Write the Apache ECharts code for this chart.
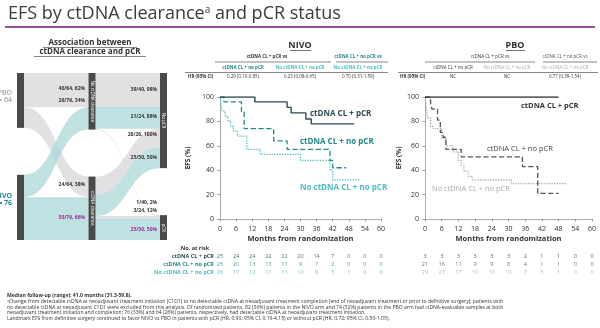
<!DOCTYPE html>
<html><head><meta charset="utf-8">
<script src="https://cdn.jsdelivr.net/npm/echarts@6/dist/echarts.min.js"></script>
<style>html,body{margin:0;padding:0;background:#fff}#c{width:600px;height:328px}</style>
</head><body><div id="c"></div>
<script>
// ---------- data ----------
const months = [0, 6, 12, 18, 24, 30, 36, 42, 48, 54, 60];
const groups = ['ctDNA CL + pCR', 'ctDNA CL + no pCR', 'No ctDNA CL + no pCR'];

// NIVO KM curves [month, EFS%]
const nivoClPcr   = [[0,100],[13,96],[25,91.5],[26.5,87],[32,82],[34,78],[50,78]];
const nivoClNoPcr = [[0,100],[1.5,96],[8,88],[9,74],[20,64],[25,57],[41,48],[42,42],[47,42]];
const nivoNoClNoPcr = [[0,100],[0.4,92],[1,88],[2,84],[3,80],[4,76],[5,72],[6.5,68],[10,57],[15,53],[30,48],[41,40],[42,32],[52,32]];
// PBO KM curves
const pboClPcr   = [[0,100],[48,100]];
const pboClNoPcr = [[0,100],[2,95],[2.5,90],[4.5,81],[5.5,71],[6.5,67],[7.5,57],[13,51],[35,43],[40.5,21],[48,21]];
const pboNoClNoPcr = [[0,100],[0.5,90],[1,83],[2,76],[3,74],[6,66],[7.5,60],[10,55],[12,48],[13,44],[14,39],[15.5,35],[17,32],[31,29],[51,29]];

// number at risk
const nivoRisk = [[25,24,24,22,22,20,14,7,0,0,0],[25,20,13,13,11,9,7,2,0,0,0],[26,17,12,11,11,10,8,5,1,0,0]];
const pboRisk  = [[3,3,3,3,3,3,2,1,1,0,0],[21,16,11,9,9,8,4,1,1,0,0],[29,23,17,10,10,10,7,5,1,0,0]];

// HR table
const nivoHR = ['0.29 (0.10-0.85)', '0.23 (0.08-0.65)', '0.70 (0.31-1.59)'];
const pboHR  = ['NC', 'NC', '0.77 (0.39-1.54)'];

// Sankey
const arms = ['PBO', 'NIVO'];
const armN = [64, 76];
const clearanceNodes = ['No ctDNA clearance', 'ctDNA clearance'];
const pcrNodes = ['No pCR', 'pCR'];
const armToClearance = [[40, 24], [26, 50]];                 // [arm][clearance]
const clearanceToPcr = [[[39, 1], [21, 3]], [[26, 0], [25, 25]]]; // [arm][clearance][pcr]
const stage1Labels = ['40/64, 62%', '24/64, 38%', '26/76, 34%', '50/76, 66%'];
const stage2Labels = ['39/40, 98%', '1/40, 2%', '21/24, 88%', '3/24, 12%', '26/26, 100%', '25/50, 50%', '25/50, 50%'];

// ---------- styles ----------
const FONT = '"Open Sans", "Noto Sans", sans-serif';
const nivoCols = ['#2d4b52', '#24878a', '#4dbcc4'];
const pboCols  = ['#333333', '#555555', '#a8a8a8'];
const armFlowCols = ['#d9d5d9', '#a9d7d8'];

const chart = echarts.init(document.getElementById('c'), null, {renderer: 'canvas'});

// sankey nodes/links
const sNodes = [];
arms.forEach((a, i) => sNodes.push({name: a, depth: 0, label: {show: false}}));
clearanceNodes.forEach(n => sNodes.push({name: n, depth: 1}));
pcrNodes.forEach(n => sNodes.push({name: n, depth: 2}));
const sLinks = [];
arms.forEach((a, i) => clearanceNodes.forEach((c, j) => sLinks.push({source: a, target: c, value: armToClearance[i][j], lineStyle: {color: armFlowCols[i]}})));
arms.forEach((a, i) => clearanceNodes.forEach((c, j) => pcrNodes.forEach((p, k) => {
  const v = clearanceToPcr[i][j][k];
  if (v > 0) sLinks.push({source: c, target: p, value: v, lineStyle: {color: armFlowCols[i]}});
})));

function kmSeries(data, color, type, xi) {
  return {type: 'line', xAxisIndex: xi, yAxisIndex: xi, data: data, step: 'end', symbol: 'none',
    lineStyle: {color: color, width: type === 'solid' ? 1.4 : 1.3, type: type}, silent: true, animation: false};
}
function riskSeries(rows, cols, xi) {
  const out = [];
  rows.forEach((r, ri) => {
    out.push({type: 'scatter', xAxisIndex: xi, yAxisIndex: xi, symbolSize: 0, silent: true, animation: false,
      data: r.map((v, i) => [months[i], groups[ri], v]),
      label: {show: true, position: 'inside', formatter: p => p.value[2], color: cols[ri], fontSize: 5.5, fontFamily: FONT}});
  });
  return out;
}

function txt(x, y, s, size, color, opts) {
  opts = opts || {};
  return {type: 'text', x: x, y: y, z: 100, silent: true, rotation: opts.rot || 0,
    style: {text: s, fill: color, font: (opts.bold ? 'bold ' : '') + size + 'px ' + FONT,
      align: opts.align || 'left', textAlign: opts.align || 'left',
      verticalAlign: 'middle', textVerticalAlign: 'middle'}};
}
function ln(x1, y1, x2, y2, color, w) {
  return {type: 'line', z: 100, silent: true, shape: {x1: x1, y1: y1, x2: x2, y2: y2}, style: {stroke: color, lineWidth: w || 0.6}};
}

const FN = 5.05;
const graphics = [
  {type: 'text', x: 8, y: 14, z: 100, silent: true, style: {
    text: '{t|EFS by ctDNA clearance}{s|a}{t| and pCR status}', fill: '#3b3b3b',
    verticalAlign: 'middle', textVerticalAlign: 'middle',
    rich: {t: {fontSize: 18, fontFamily: FONT, fill: '#3b3b3b', color: '#3b3b3b'},
           s: {fontSize: 10, fontFamily: FONT, verticalAlign: 'top', padding: [0, 0, 8, 0], color: '#3b3b3b'}}}},
  ln(5, 27, 595, 27, '#9c4f97', 1.8),
  // sankey heading
  txt(90, 43, 'Association between', 8, '#333', {bold: true, align: 'center'}),
  txt(90, 52, 'ctDNA clearance and pCR', 8, '#333', {bold: true, align: 'center'}),
  ln(43, 47.5, 137, 47.5, '#333', 0.6),
  ln(34, 56.5, 146, 56.5, '#333', 0.6),
  // arm labels
  txt(12, 93, 'PBO', 7, '#888', {align: 'right'}),
  txt(12, 100, 'n = 64', 7, '#888', {align: 'right'}),
  txt(12, 196, 'NIVO', 7, '#1f8a8c', {align: 'right', bold: true}),
  txt(12, 203, 'n = 76', 7, '#1f8a8c', {align: 'right', bold: true}),
  // stage 1 flow labels
  txt(85, 89, stage1Labels[0], 5, '#333', {align: 'right', bold: true}),
  txt(85, 101, stage1Labels[2], 5, '#333', {align: 'right', bold: true}),
  txt(85, 185, stage1Labels[1], 5, '#333', {align: 'right', bold: true}),
  txt(85, 218, stage1Labels[3], 5, '#9b2f9b', {align: 'right', bold: true}),
  // stage 2 flow labels
  txt(157, 90, stage2Labels[0], 5, '#333', {align: 'right', bold: true}),
  txt(157, 117, stage2Labels[2], 5, '#333', {align: 'right', bold: true}),
  txt(157, 135, stage2Labels[4], 5, '#333', {align: 'right', bold: true}),
  txt(157, 158, stage2Labels[5], 5, '#333', {align: 'right', bold: true}),
  txt(157, 203, stage2Labels[1], 5, '#333', {align: 'right', bold: true}),
  txt(157, 211, stage2Labels[3], 5, '#333', {align: 'right', bold: true}),
  txt(157, 230, stage2Labels[6], 5, '#9b2f9b', {align: 'right', bold: true}),
  // NIVO header
  txt(300, 45, 'NIVO', 9, '#333', {bold: true, align: 'center'}),
  ln(290, 50.5, 311, 50.5, '#333', 0.7),
  txt(267, 57, groups[0] + ' vs', 4.5, '#333', {bold: true, align: 'center'}),
  txt(358, 57, groups[1] + ' vs', 4.5, '#24878a', {bold: true, align: 'center'}),
  ln(215, 62, 331, 62, '#555', 0.7), ln(336, 62, 388, 62, '#555', 0.7),
  txt(243, 68, groups[1], 4.5, '#24878a', {bold: true, align: 'center'}),
  txt(300, 68, groups[2], 4.5, '#4dbcc4', {bold: true, align: 'center'}),
  txt(358, 68, groups[2], 4.5, '#4dbcc4', {bold: true, align: 'center'}),
  ln(185, 72.5, 388, 72.5, '#555', 0.7),
  txt(188, 77, 'HR (95% CI)', 4.5, '#333', {bold: true}),
  txt(243, 77, nivoHR[0], 4.5, '#333', {align: 'center'}),
  txt(300, 77, nivoHR[1], 4.5, '#333', {align: 'center'}),
  txt(358, 77, nivoHR[2], 4.5, '#333', {align: 'center'}),
  // PBO header
  txt(515, 45, 'PBO', 9, '#333', {bold: true, align: 'center'}),
  ln(506, 50.5, 525, 50.5, '#333', 0.7),
  txt(490, 57, groups[0] + ' vs', 4.5, '#333', {align: 'center'}),
  txt(565, 57, groups[1] + ' vs', 4.5, '#555', {align: 'center'}),
  ln(425, 62, 535, 62, '#555', 0.7), ln(543, 62, 597, 62, '#555', 0.7),
  txt(453, 68, groups[1], 4.5, '#333', {align: 'center'}),
  txt(507, 68, groups[2], 4.5, '#aaa', {align: 'center'}),
  txt(565, 68, groups[2], 4.5, '#aaa', {align: 'center'}),
  ln(398, 72.5, 598, 72.5, '#555', 0.7),
  txt(400, 77, 'HR (95% CI)', 4.5, '#333', {bold: true}),
  txt(453, 77, pboHR[0], 4.5, '#333', {align: 'center'}),
  txt(507, 77, pboHR[1], 4.5, '#333', {align: 'center'}),
  txt(565, 77, pboHR[2], 4.5, '#333', {align: 'center'}),
  // curve labels NIVO
  txt(310, 114, groups[0], 8, nivoCols[0], {bold: true}),
  txt(300, 142, groups[1], 8, nivoCols[1], {bold: true}),
  txt(300, 188, groups[2], 8, nivoCols[2], {bold: true}),
  // curve labels PBO
  txt(521, 106, groups[0], 7.5, '#333', {bold: true}),
  txt(487, 149, groups[1], 7.5, '#444'),
  txt(432, 189, groups[2], 7.5, '#aaa'),
  // risk header
  txt(195, 248, 'No. at risk', 5.5, '#333', {align: 'center', bold: true}),
  // footnotes
  txt(7, 296, 'Median follow-up (range): 41.0 months (31.3-59.8).', FN, '#333', {bold: true}),
  txt(7, 302, 'ᵃChange from detectable ctDNA at neoadjuvant treatment initiation (C1D1) to no detectable ctDNA at neoadjuvant treatment completion (end of neoadjuvant treatment or prior to definitive surgery); patients with', FN, '#333'),
  txt(7, 307.5, 'no detectable ctDNA at neoadjuvant C1D1 were excluded from this analysis. Of randomized patients, 82 (36%) patients in the NIVO arm and 74 (32%) patients in the PBO arm had ctDNA-evaluable samples at both', FN, '#333'),
  txt(7, 313, 'neoadjuvant treatment initiation and completion; 76 (33%) and 64 (28%) patients, respectively, had detectable ctDNA at neoadjuvant treatment initiation.', FN, '#333'),
  txt(7, 318.5, 'Landmark EFS from definitive surgery continued to favor NIVO vs PBO in patients with pCR (HR, 0.90; 95% CI, 0.19-4.15) or without pCR (HR, 0.72; 95% CI, 0.50-1.05).', FN, '#333')
];

const kmX = (gi) => ({gridIndex: gi, type: 'value', min: 0, max: 60, interval: 6,
  axisLine: {show: true, onZero: false, lineStyle: {color: '#999', width: 0.8}},
  axisTick: {show: true, length: 2.5, lineStyle: {color: '#999'}},
  minorTick: {show: true, splitNumber: 2, length: 1.5, lineStyle: {color: '#bbb'}},
  splitLine: {show: false},
  axisLabel: {fontSize: 7, color: '#333', fontFamily: FONT, margin: 6},
  name: 'Months from randomization', nameLocation: 'middle', nameGap: 16,
  nameTextStyle: {fontSize: 7.5, fontWeight: 'bold', color: '#333', fontFamily: FONT}});
const kmY = (gi, gap) => ({gridIndex: gi, type: 'value', min: 0, max: 100, interval: 20,
  axisLine: {show: true, lineStyle: {color: '#999', width: 0.8}},
  axisTick: {show: true, length: 2.5, lineStyle: {color: '#999'}},
  splitLine: {show: false},
  axisLabel: {fontSize: 7, color: '#333', fontFamily: FONT, margin: 6},
  name: 'EFS (%)', nameLocation: 'middle', nameGap: gap, nameRotate: 90,
  nameTextStyle: {fontSize: 6.5, fontWeight: 'bold', color: '#333', fontFamily: FONT}});
const riskX = (gi) => ({gridIndex: gi, type: 'value', min: 0, max: 60, interval: 6, show: false});
const riskY = (gi, showLabels, cols) => ({gridIndex: gi, type: 'category', data: groups, inverse: true,
  axisLine: {show: false}, axisTick: {show: false}, splitLine: {show: false},
  axisLabel: {show: showLabels, fontSize: 5.5, fontFamily: FONT, margin: 6, fontWeight: 'bold',
    color: (v, i) => cols[groups.indexOf(v)]}});

chart.setOption({
  animation: false,
  backgroundColor: '#ffffff',
  textStyle: {fontFamily: FONT},
  grid: [
    {left: 220, top: 97, width: 161, height: 122},
    {left: 425, top: 97, width: 167, height: 122},
    {left: 220, top: 252, width: 161, height: 24},
    {left: 425, top: 252, width: 167, height: 24}
  ],
  xAxis: [kmX(0), kmX(1), riskX(2), riskX(3)],
  yAxis: [kmY(0, 28), kmY(1, 22), riskY(2, true, nivoCols), riskY(3, false, pboCols)],
  series: [
    {type: 'sankey', left: 17, top: 73, right: 433, bottom: 88, nodeWidth: 7, nodeGap: 47,
      layoutIterations: 0, draggable: false, silent: true, animation: false,
      emphasis: {disabled: true},
      itemStyle: {color: '#4a4a4a', borderWidth: 0},
      lineStyle: {curveness: 0.5, opacity: 0.75},
      label: {show: true, position: 'inside', rotate: -90, color: '#fff', fontSize: 4.5, fontFamily: FONT},
      data: sNodes, links: sLinks},
    kmSeries(nivoNoClNoPcr, nivoCols[2], 'dotted', 0),
    kmSeries(nivoClNoPcr, nivoCols[1], 'dashed', 0),
    kmSeries(nivoClPcr, nivoCols[0], 'solid', 0),
    kmSeries(pboNoClNoPcr, pboCols[2], 'dotted', 1),
    kmSeries(pboClNoPcr, pboCols[1], 'dashed', 1),
    kmSeries(pboClPcr, pboCols[0], 'solid', 1),
    ...riskSeries(nivoRisk, nivoCols, 2),
    ...riskSeries(pboRisk, pboCols, 3)
  ],
  graphic: graphics
});
</script></body></html>
